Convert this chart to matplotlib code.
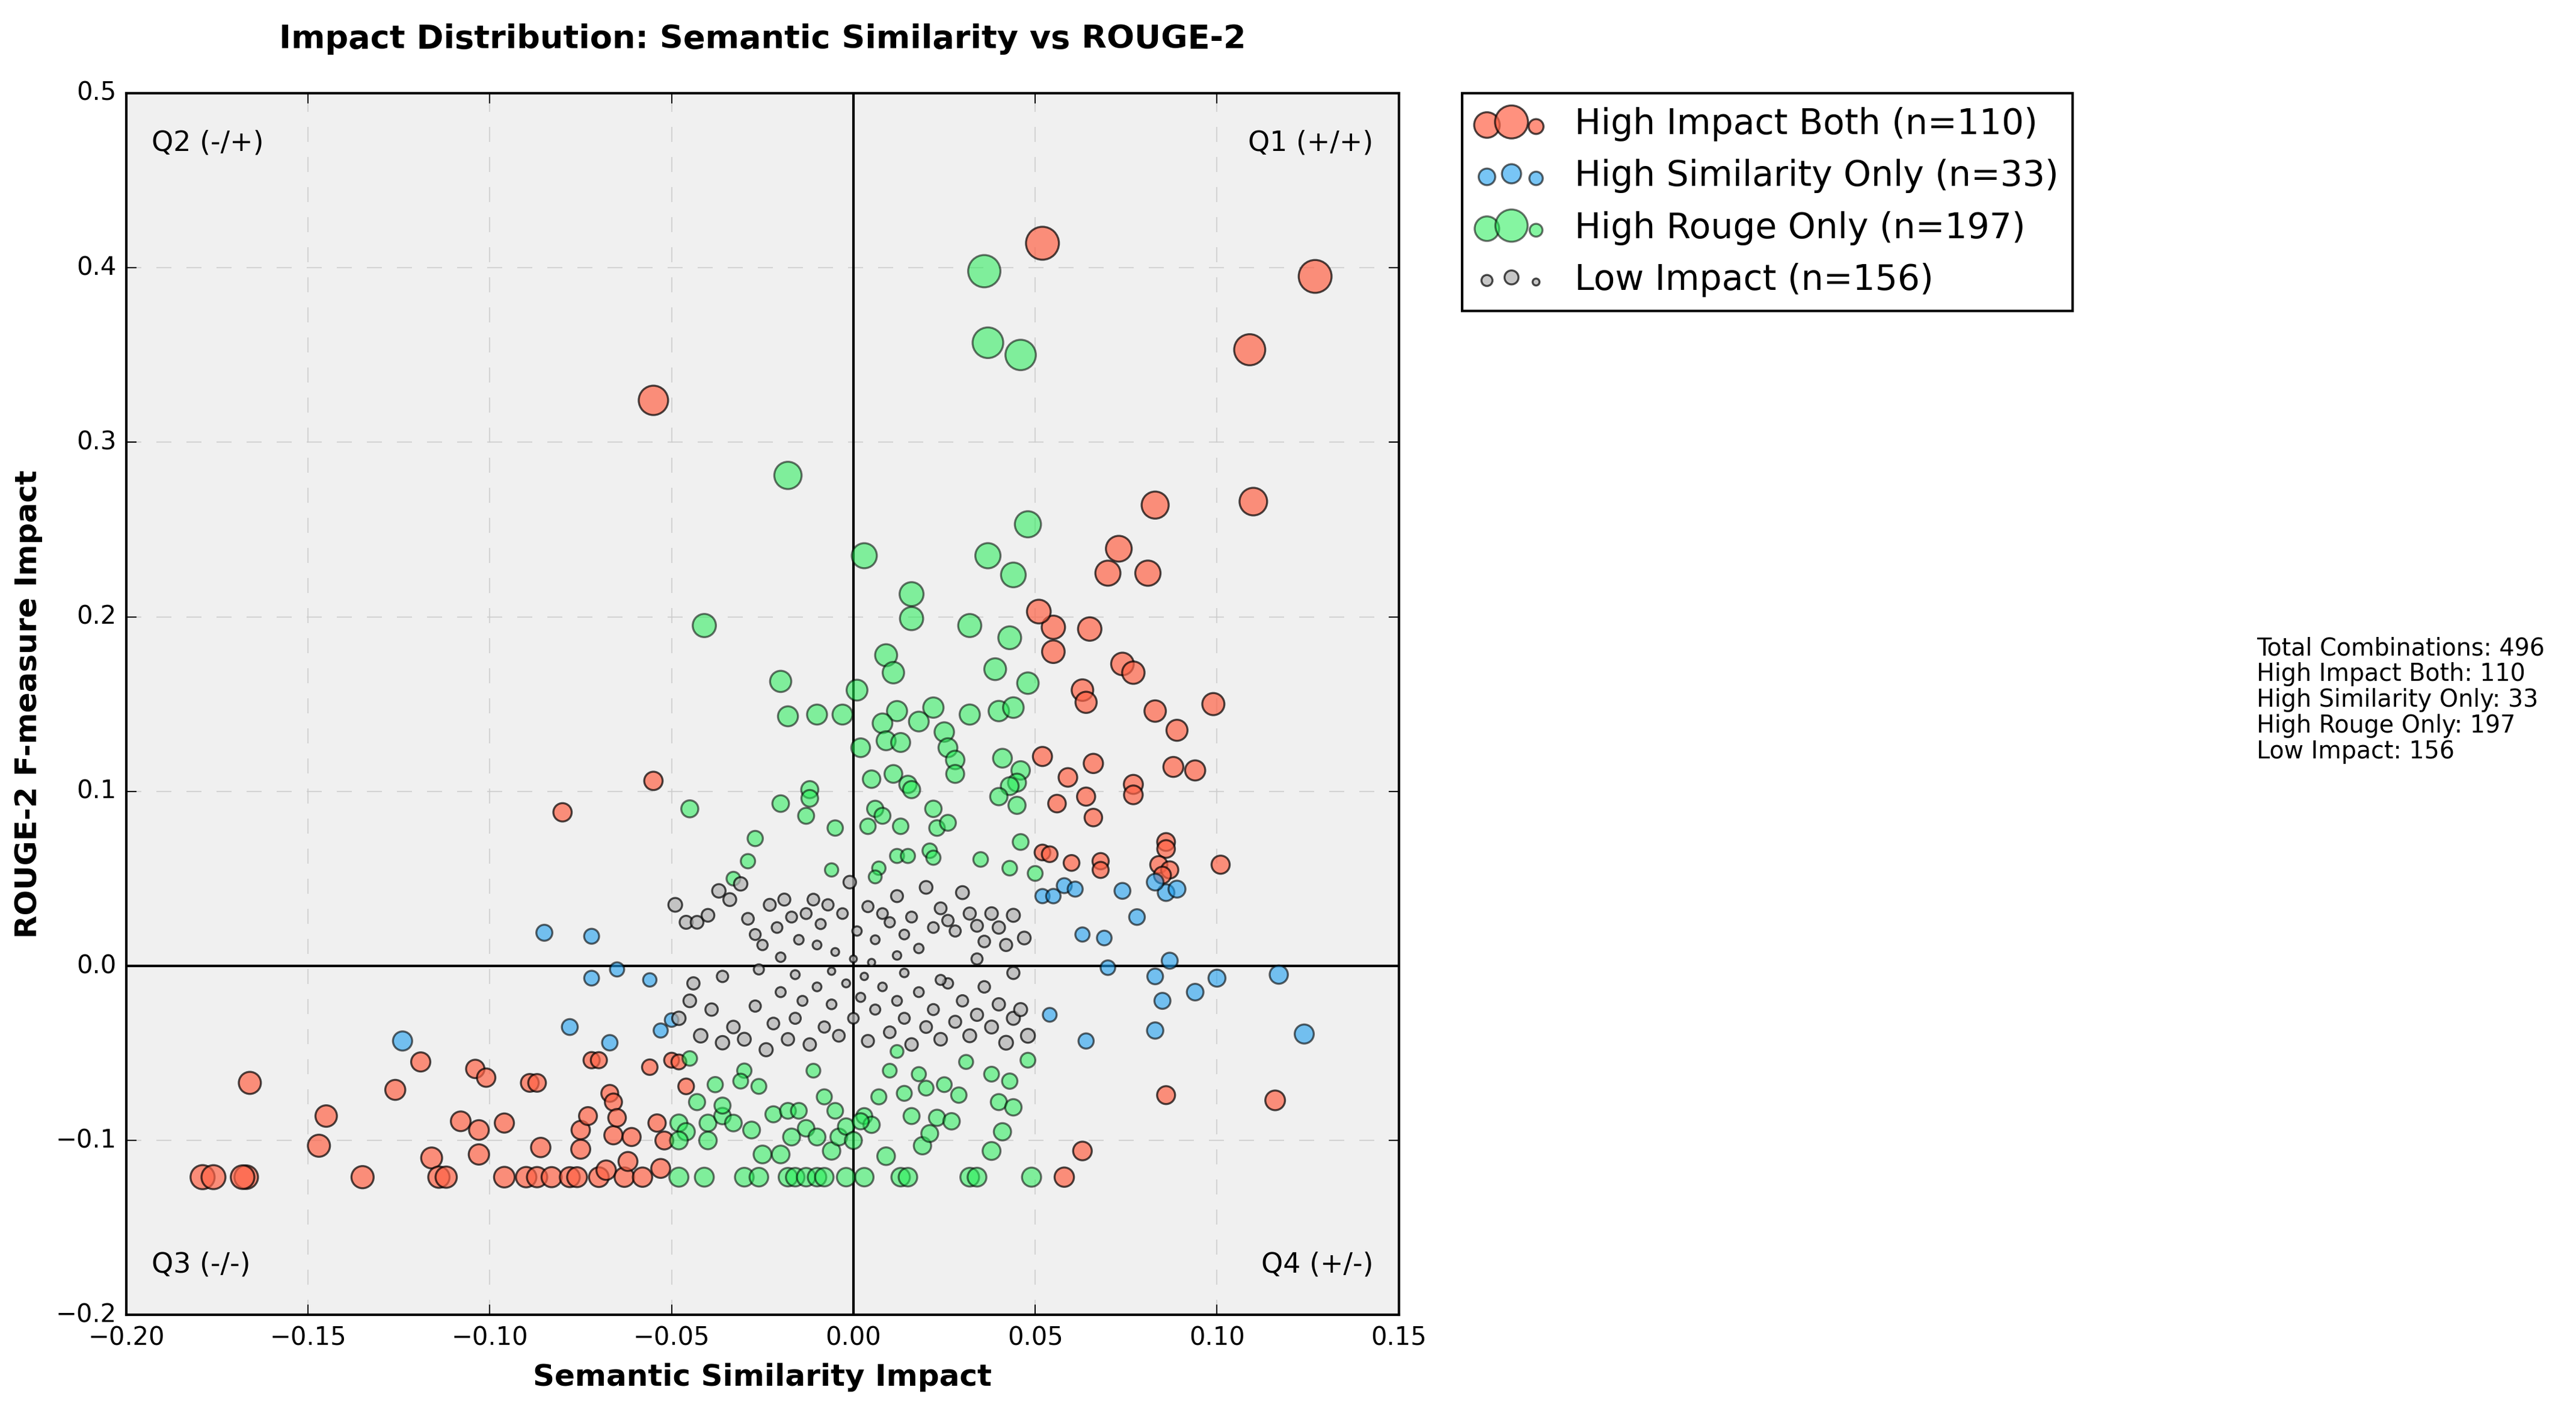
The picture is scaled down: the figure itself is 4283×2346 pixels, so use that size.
import numpy as np
import matplotlib
matplotlib.use('Agg')
import matplotlib.pyplot as plt

plt.style.use('classic')

# Approximate point positions (semantic impact, rouge impact)
high_both = [
    (0.127, 0.395), (0.109, 0.353), (0.052, 0.414), (0.110, 0.266), (0.083, 0.264), (0.073, 0.239),
    (0.070, 0.225), (0.081, 0.225), (0.065, 0.193), (0.055, 0.194), (0.051, 0.203), (0.055, 0.180),
    (0.074, 0.173), (0.077, 0.168), (0.099, 0.150), (0.063, 0.158), (0.083, 0.146), (0.064, 0.151),
    (0.089, 0.135), (0.052, 0.120), (0.066, 0.116), (0.059, 0.108), (0.077, 0.104), (0.077, 0.098),
    (0.088, 0.114), (0.094, 0.112), (0.056, 0.093), (0.064, 0.097), (0.066, 0.085), (0.052, 0.065),
    (0.054, 0.064), (0.060, 0.059), (0.068, 0.060), (0.068, 0.055), (0.086, 0.071), (0.086, 0.067),
    (0.084, 0.058), (0.087, 0.055), (0.101, 0.058), (0.085, 0.052),
    (0.116, -0.077), (0.086, -0.074), (0.063, -0.106), (0.058, -0.121),
    (-0.055, 0.324), (-0.055, 0.106), (-0.080, 0.088),
    (-0.179, -0.121), (-0.176, -0.121), (-0.167, -0.121), (-0.168, -0.121), (-0.166, -0.067),
    (-0.147, -0.103), (-0.145, -0.086), (-0.135, -0.121), (-0.126, -0.071), (-0.119, -0.055),
    (-0.116, -0.110), (-0.114, -0.121), (-0.112, -0.121), (-0.108, -0.089), (-0.104, -0.059),
    (-0.103, -0.094), (-0.101, -0.064), (-0.103, -0.108), (-0.096, -0.090), (-0.096, -0.121),
    (-0.089, -0.067), (-0.087, -0.067), (-0.090, -0.121), (-0.087, -0.121), (-0.086, -0.104),
    (-0.083, -0.121), (-0.078, -0.121), (-0.076, -0.121), (-0.075, -0.105), (-0.075, -0.094),
    (-0.073, -0.086), (-0.072, -0.054), (-0.070, -0.054), (-0.070, -0.121), (-0.068, -0.117),
    (-0.067, -0.073), (-0.066, -0.078), (-0.066, -0.097), (-0.065, -0.087), (-0.063, -0.121),
    (-0.062, -0.112), (-0.061, -0.098), (-0.058, -0.121), (-0.056, -0.058), (-0.054, -0.090),
    (-0.053, -0.116), (-0.052, -0.100), (-0.050, -0.054), (-0.048, -0.055), (-0.046, -0.069),
]
high_sim = [
    (-0.124, -0.043), (-0.085, 0.019), (-0.072, 0.017), (-0.078, -0.035), (-0.072, -0.007),
    (-0.067, -0.044), (-0.065, -0.002), (-0.056, -0.008), (-0.053, -0.037), (-0.050, -0.031),
    (0.063, 0.018), (0.069, 0.016), (0.052, 0.040), (0.055, 0.040), (0.058, 0.046), (0.061, 0.044),
    (0.074, 0.043), (0.078, 0.028), (0.070, -0.001), (0.086, 0.042), (0.083, 0.048), (0.089, 0.044),
    (0.087, 0.003), (0.083, -0.006), (0.085, -0.020), (0.094, -0.015), (0.100, -0.007),
    (0.117, -0.005), (0.124, -0.039), (0.083, -0.037), (0.064, -0.043), (0.054, -0.028),
]
high_rouge = [
    (0.036, 0.398), (0.037, 0.357), (0.046, 0.350), (-0.018, 0.281), (0.003, 0.235), (0.037, 0.235),
    (0.048, 0.253), (0.044, 0.224), (0.016, 0.213), (0.016, 0.199), (0.032, 0.195), (0.043, 0.188),
    (0.009, 0.178), (0.039, 0.170), (0.011, 0.168), (0.048, 0.162), (0.001, 0.158), (0.022, 0.148),
    (0.012, 0.146), (0.040, 0.146), (0.044, 0.148), (0.032, 0.144), (0.018, 0.140), (0.025, 0.134),
    (0.008, 0.139), (0.009, 0.129), (0.013, 0.128), (0.002, 0.125), (0.026, 0.125), (0.028, 0.118),
    (0.041, 0.119), (0.046, 0.112), (0.045, 0.105), (0.043, 0.103), (0.040, 0.097), (0.045, 0.092),
    (0.011, 0.110), (0.005, 0.107), (0.028, 0.110), (0.015, 0.104), (0.016, 0.101), (0.022, 0.090),
    (0.006, 0.090), (0.008, 0.086), (0.023, 0.079), (0.004, 0.080), (0.013, 0.080), (0.026, 0.082),
    (0.021, 0.066), (0.022, 0.062), (0.012, 0.063), (0.015, 0.063), (0.035, 0.061), (0.046, 0.071),
    (0.043, 0.056), (0.050, 0.053), (0.007, 0.056), (0.006, 0.051),
    (-0.041, 0.195), (-0.020, 0.163), (-0.018, 0.143), (-0.010, 0.144), (-0.003, 0.144),
    (-0.045, 0.090), (-0.012, 0.101), (-0.020, 0.093), (-0.012, 0.096), (-0.027, 0.073),
    (-0.013, 0.086), (-0.005, 0.079), (-0.029, 0.060), (-0.006, 0.055), (-0.033, 0.050),
    (-0.048, -0.121), (-0.041, -0.121), (-0.030, -0.121), (-0.026, -0.121), (-0.018, -0.121),
    (-0.016, -0.121), (-0.013, -0.121), (-0.010, -0.121), (-0.008, -0.121), (-0.002, -0.121),
    (0.003, -0.121), (0.013, -0.121), (0.015, -0.121), (0.032, -0.121), (0.034, -0.121), (0.049, -0.121),
    (-0.048, -0.090), (-0.046, -0.095), (-0.043, -0.078), (-0.040, -0.090), (-0.040, -0.100),
    (-0.038, -0.068), (-0.036, -0.086), (-0.033, -0.090), (-0.030, -0.060), (-0.028, -0.094),
    (-0.026, -0.069), (-0.025, -0.108), (-0.022, -0.085), (-0.020, -0.108), (-0.018, -0.083),
    (-0.017, -0.098), (-0.015, -0.083), (-0.013, -0.093), (-0.011, -0.060), (-0.010, -0.098),
    (-0.008, -0.075), (-0.006, -0.106), (-0.004, -0.098), (-0.002, -0.092), (0.000, -0.100),
    (0.003, -0.086), (0.005, -0.091), (0.007, -0.075), (0.009, -0.109), (0.010, -0.060),
    (0.012, -0.049), (0.014, -0.073), (0.016, -0.086), (0.018, -0.062), (0.019, -0.103),
    (0.021, -0.096), (0.023, -0.087), (0.025, -0.068), (0.027, -0.089), (0.029, -0.074),
    (0.031, -0.055), (0.038, -0.062), (0.040, -0.078), (0.041, -0.095), (0.043, -0.066),
    (0.044, -0.081), (0.048, -0.054), (0.038, -0.106), (-0.048, -0.100), (-0.045, -0.053),
    (-0.036, -0.080), (-0.031, -0.066), (-0.005, -0.083), (0.002, -0.089), (0.020, -0.070),
]
low_impact = [
    (-0.049, 0.035), (-0.046, 0.025), (-0.043, 0.025), (-0.040, 0.029), (-0.037, 0.043),
    (-0.034, 0.038), (-0.031, 0.047), (-0.029, 0.027), (-0.027, 0.018), (-0.025, 0.012),
    (-0.023, 0.035), (-0.021, 0.022), (-0.019, 0.038), (-0.017, 0.028), (-0.015, 0.015),
    (-0.013, 0.030), (-0.011, 0.038), (-0.009, 0.024), (-0.007, 0.035), (-0.005, 0.008),
    (-0.003, 0.030), (-0.001, 0.048), (0.001, 0.020), (0.004, 0.034), (0.006, 0.015),
    (0.008, 0.030), (0.010, 0.025), (0.012, 0.040), (0.014, 0.018), (0.016, 0.028),
    (0.018, 0.010), (0.020, 0.045), (0.022, 0.022), (0.024, 0.033), (0.026, 0.026),
    (0.028, 0.020), (0.030, 0.042), (0.032, 0.030), (0.034, 0.023), (0.036, 0.014),
    (0.038, 0.030), (0.040, 0.022), (0.042, 0.012), (0.044, 0.029), (0.047, 0.016),
    (-0.020, 0.005), (-0.010, 0.012), (0.000, 0.004), (0.005, 0.002), (0.012, 0.006),
    (-0.048, -0.030), (-0.045, -0.020), (-0.042, -0.040), (-0.039, -0.025), (-0.036, -0.044),
    (-0.033, -0.035), (-0.030, -0.042), (-0.027, -0.023), (-0.024, -0.048), (-0.022, -0.033),
    (-0.020, -0.015), (-0.018, -0.042), (-0.016, -0.030), (-0.014, -0.020), (-0.012, -0.045),
    (-0.010, -0.012), (-0.008, -0.035), (-0.006, -0.022), (-0.004, -0.040), (-0.002, -0.010),
    (0.000, -0.030), (0.002, -0.018), (0.004, -0.043), (0.006, -0.025), (0.008, -0.012),
    (0.010, -0.038), (0.012, -0.020), (0.014, -0.030), (0.016, -0.045), (0.018, -0.015),
    (0.020, -0.035), (0.022, -0.025), (0.024, -0.042), (0.026, -0.010), (0.028, -0.032),
    (0.030, -0.020), (0.032, -0.040), (0.034, -0.028), (0.036, -0.012), (0.038, -0.035),
    (0.040, -0.022), (0.042, -0.044), (0.044, -0.030), (0.046, -0.025), (0.048, -0.040),
    (-0.026, -0.002), (-0.016, -0.005), (-0.006, -0.003), (0.003, -0.006), (0.014, -0.004),
    (0.024, -0.008), (0.034, 0.004), (-0.036, -0.006), (0.044, -0.004), (-0.044, -0.010),
]
group_labels = ['High Impact Both', 'High Similarity Only', 'High Rouge Only', 'Low Impact']
group_counts = [110, 33, 197, 156]
total_combinations = 496

groups = [high_both, high_sim, high_rouge, low_impact]
colors = ['#ff6347', '#1e9fef', '#22ee55', '#b0b0b0']
alphas = [0.7, 0.6, 0.55, 0.7]

fig = plt.figure(figsize=(4283 / 300, 2346 / 300), facecolor='white')
ax = fig.add_axes([0.049, 0.068, 0.494, 0.866])
ax.set_facecolor('#f0f0f0')
ax.set_axisbelow(True)

for pts, lab, n, c, a in zip(groups, group_labels, group_counts, colors, alphas):
    arr = np.array(pts)
    dist = np.sqrt(arr[:, 0] ** 2 + arr[:, 1] ** 2)
    sizes = 6 + 400 * dist
    ax.scatter(arr[:, 0], arr[:, 1], s=sizes, c=c, alpha=a, edgecolors='black',
               linewidths=0.8, label=f'{lab} (n={n})', zorder=3)

ax.grid(True, linestyle='--', color='#cccccc', alpha=0.8)
ax.axhline(0, color='black', lw=1, ls='-', zorder=2.5)
ax.axvline(0, color='black', lw=1, ls='-', zorder=2.5)
ax.set_xlim(-0.2, 0.15)
ax.set_ylim(-0.2, 0.5)
ax.tick_params(labelsize=10)

ax.text(0.02, 0.97, 'Q2 (-/+)', transform=ax.transAxes, ha='left', va='top', fontsize=11)
ax.text(0.98, 0.97, 'Q1 (+/+)', transform=ax.transAxes, ha='right', va='top', fontsize=11)
ax.text(0.02, 0.03, 'Q3 (-/-)', transform=ax.transAxes, ha='left', va='bottom', fontsize=11)
ax.text(0.98, 0.03, 'Q4 (+/-)', transform=ax.transAxes, ha='right', va='bottom', fontsize=11)

ax.set_xlabel('Semantic Similarity Impact', fontsize=12, fontweight='bold')
ax.set_ylabel('ROUGE-2 F-measure Impact', fontsize=12, fontweight='bold')
ax.set_title('Impact Distribution: Semantic Similarity vs ROUGE-2', fontsize=13,
             fontweight='bold', pad=18)

ax.legend(loc='upper left', bbox_to_anchor=(1.05, 1.0), fontsize=14, scatterpoints=3,
          borderaxespad=0, frameon=True, fancybox=False)

stats = (f'Total Combinations: {total_combinations}\n'
         + '\n'.join(f'{l}: {n}' for l, n in zip(group_labels, group_counts)))
fig.text(0.876, 0.549, stats, ha='left', va='top', fontsize=9.5, linespacing=1.1)

fig.savefig('out.png', dpi=300, facecolor='white')
